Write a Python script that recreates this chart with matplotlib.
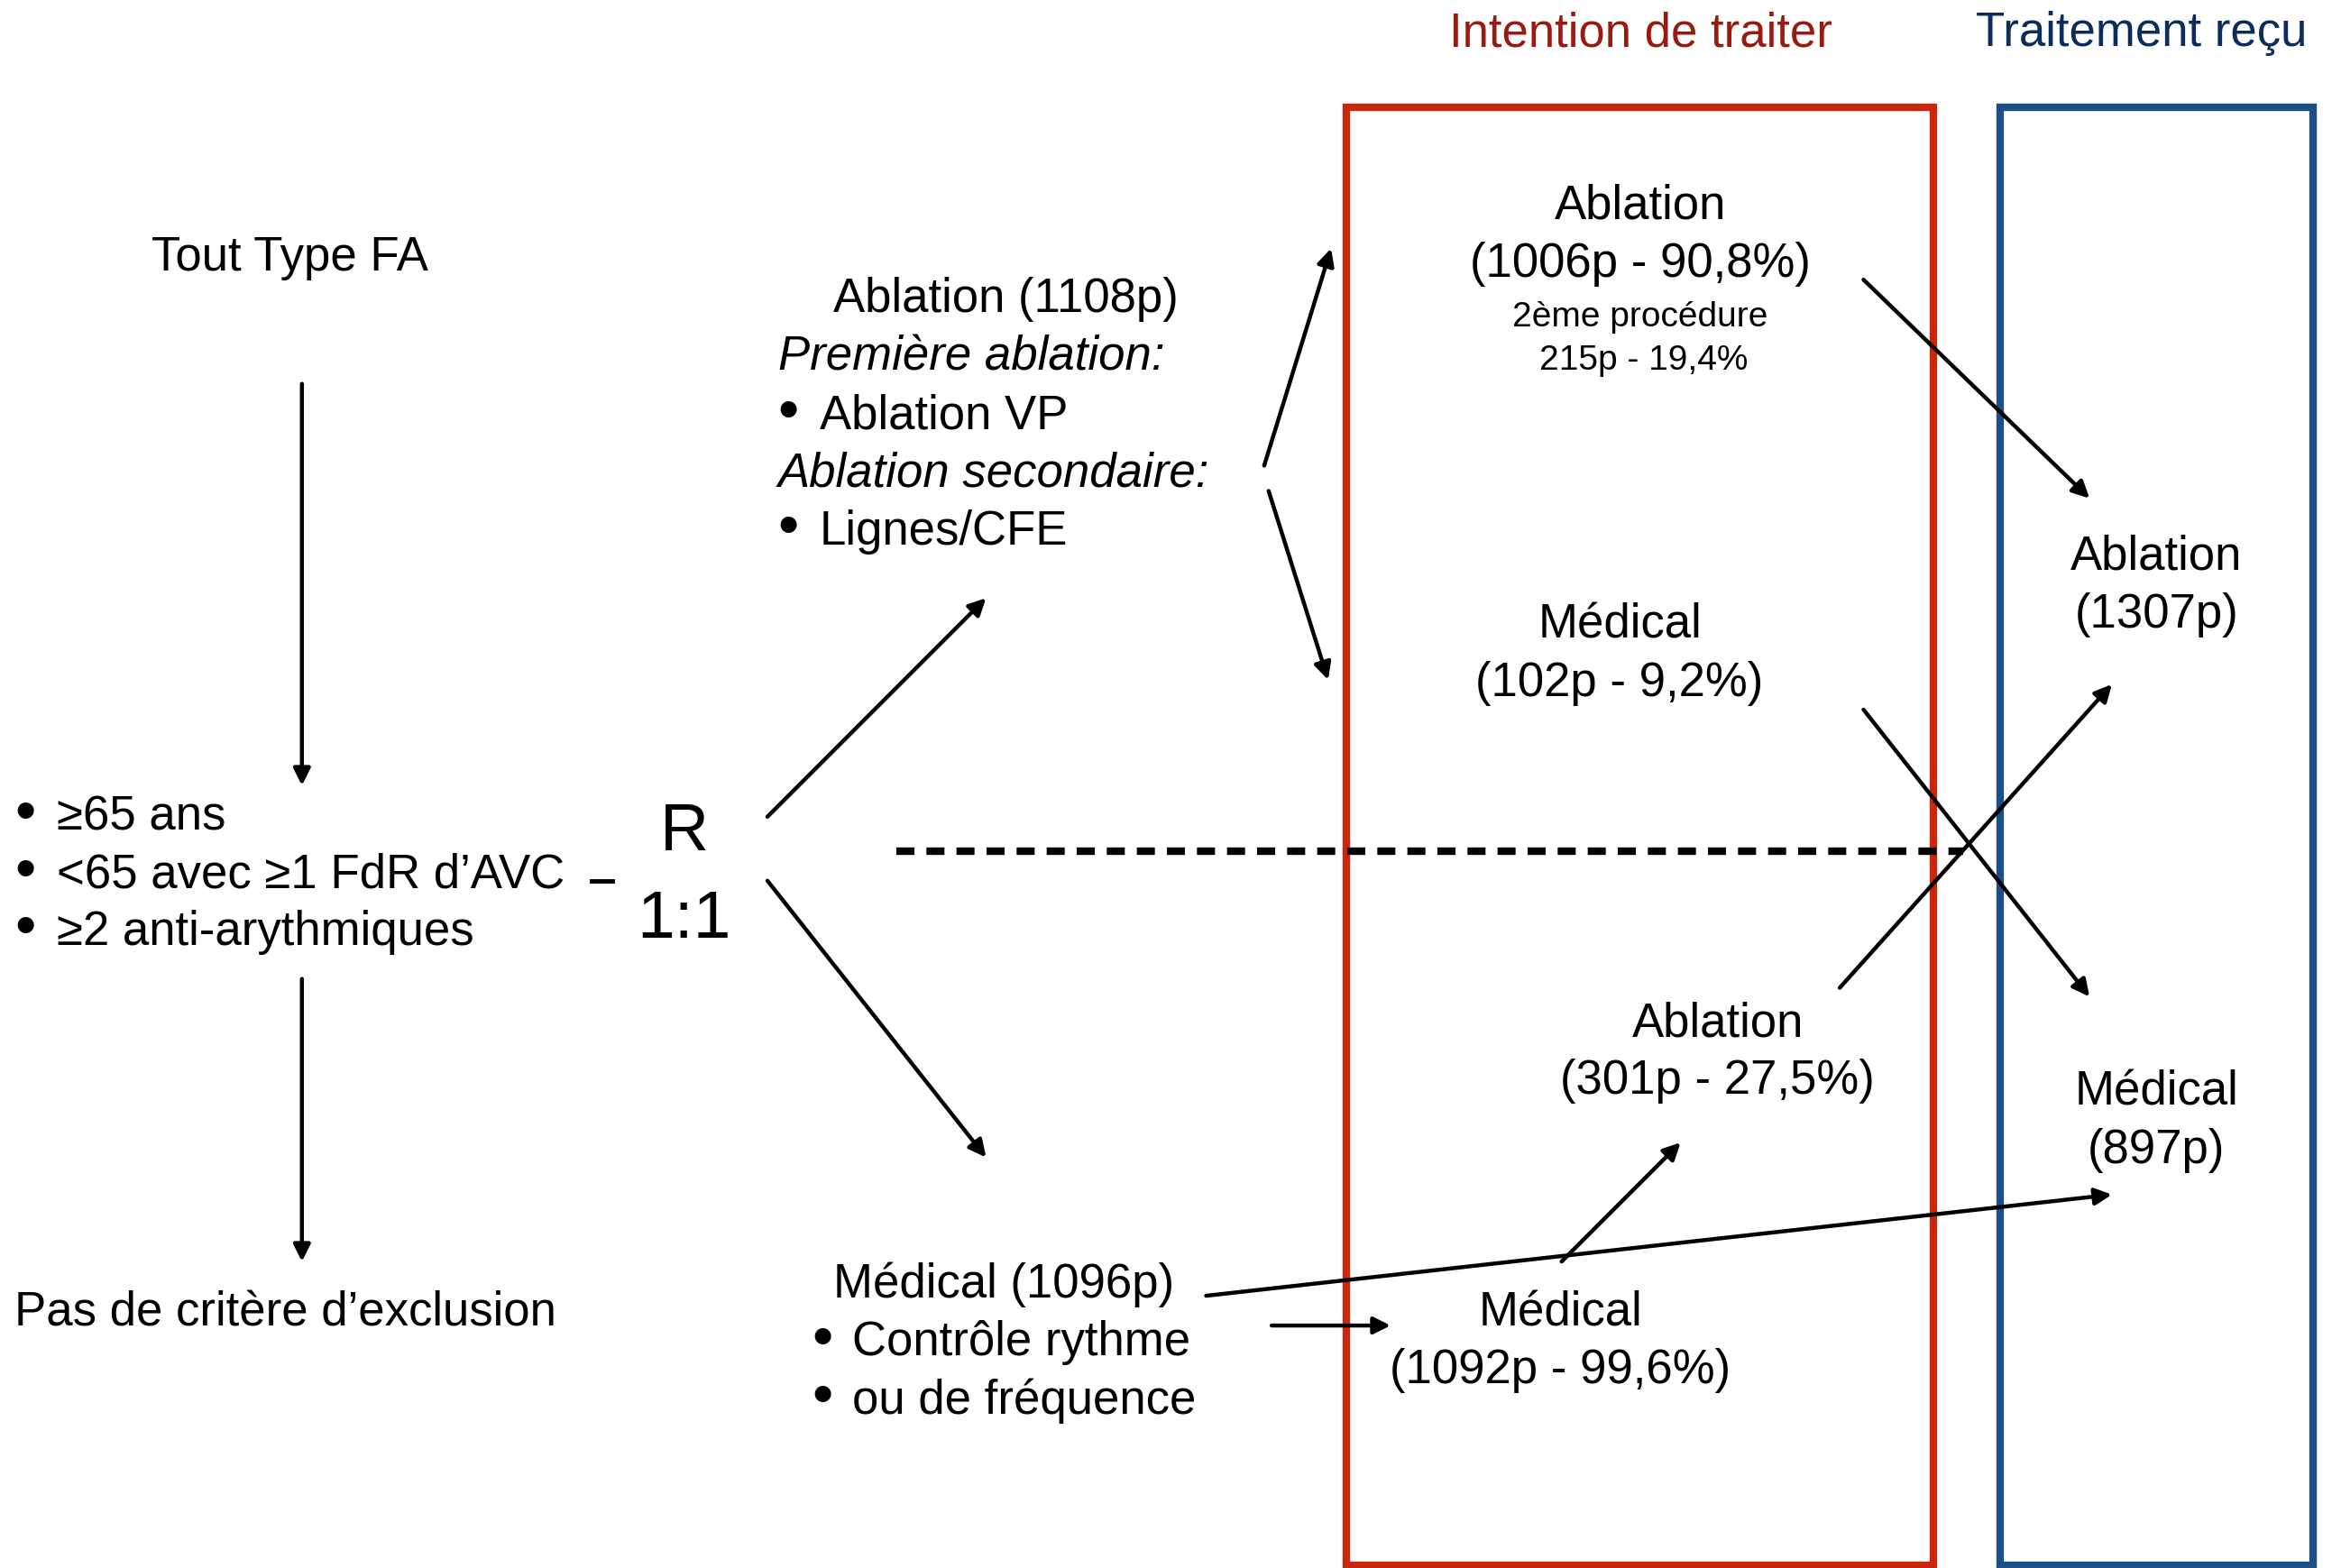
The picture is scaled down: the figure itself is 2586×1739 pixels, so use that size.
import matplotlib.pyplot as plt

plt.rcParams['font.family'] = ['Liberation Sans', 'DejaVu Sans']

bras = ["Ablation", "Médical"]
n_rando = [1108, 1096]
itt_ablation = [1006, 301]          # ablation reçue : bras ablation, bras médical
itt_ablation_pct = ["90,8", "27,5"]
itt_medical = [102, 1092]
itt_medical_pct = ["9,2", "99,6"]
redo_n, redo_pct = 215, "19,4"
recu = [1307, 897]

criteres = ["≥65 ans", "<65 avec ≥1 FdR d’AVC", "≥2 anti-arythmiques"]

ROUGE = "#c9260c"
ROUGE_TXT = "#9a1a10"
BLEU = "#1d4f86"
BLEU_TXT = "#0c2c5c"
FS = 38

fig = plt.figure(figsize=(25.86, 17.39), dpi=100)
ax = fig.add_axes([0, 0, 1, 1])
ax.set_xlim(0, 1568)
ax.set_ylim(1054, 0)
ax.axis("off")


def fleche(x0, y0, x1, y1, lw=3.2):
    ax.annotate("", xy=(x1, y1), xytext=(x0, y0),
                arrowprops=dict(arrowstyle="-|>", lw=lw, color="black",
                                mutation_scale=28, shrinkA=0, shrinkB=0))


def txt(x, y, s, size=FS, ha="center", **kw):
    ax.text(x, y + 2.5, s, fontsize=size, ha=ha, va="center", **kw)


def puce(x, y):
    ax.text(x, y + 1, "•", fontsize=48, ha="center", va="center")


# cadres
ax.add_patch(plt.Rectangle((905, 72), 395, 980, fill=False, ec=ROUGE, lw=6, zorder=1))
ax.add_patch(plt.Rectangle((1345, 72), 210, 980, fill=False, ec=BLEU, lw=6, zorder=1))
txt(1103, 20, "Intention de traiter", color=ROUGE_TXT)
txt(1440, 20, "Traitement reçu", color=BLEU_TXT)

# colonne de gauche
txt(195, 171, "Tout Type FA")
fleche(203, 258, 203, 528)
for i, c in enumerate(criteres):
    y = 547 + i * 38.5
    puce(17, y)
    txt(38, y, c, ha="left")
ax.plot([398, 412], [592, 592], color="black", lw=3.5)
fleche(203, 658, 203, 848)
txt(10, 880, "Pas de critère d’exclusion", ha="left")

# randomisation
txt(460, 557, "R", size=54)
txt(460, 616, "1:1", size=54)
fleche(516, 549, 663, 402)
fleche(516, 592, 663, 778)

# bras ablation
txt(560, 199, f"{bras[0]} ({n_rando[0]}p)", ha="left")
txt(523, 238, "Première ablation:", ha="left", style="italic")
puce(530, 277)
txt(551, 277, "Ablation VP", ha="left")
txt(523, 316, "Ablation secondaire:", ha="left", style="italic")
puce(530, 355)
txt(551, 355, "Lignes/CFE", ha="left")
fleche(850, 313, 895, 167)
fleche(853, 330, 893, 457)

# bras médical
txt(560, 861, f"{bras[1]} ({n_rando[1]}p)", ha="left")
puce(553, 900)
txt(573, 900, "Contrôle rythme", ha="left")
puce(553, 939)
txt(573, 939, "ou de fréquence", ha="left")
fleche(855, 891, 935, 891)

# intention de traiter
txt(1103, 136, "Ablation")
txt(1103, 175, f"({itt_ablation[0]}p - {itt_ablation_pct[0]}%)")
txt(1103, 211, "2ème procédure", size=28)
txt(1105, 240, f"{redo_n}p - {redo_pct}%", size=28)
txt(1089, 418, "Médical")
txt(1089, 457, f"({itt_medical[0]}p - {itt_medical_pct[0]}%)")
txt(1155, 686, "Ablation")
txt(1155, 724, f"({itt_ablation[1]}p - {itt_ablation_pct[1]}%)")
txt(1049, 880, "Médical")
txt(1049, 919, f"({itt_medical[1]}p - {itt_medical_pct[1]}%)")

# séparation
ax.plot([603, 1320], [572, 572], color="black", lw=6, dashes=(2.4, 1.6))

# traitement reçu
txt(1450, 372, "Ablation")
txt(1450, 411, f"({recu[0]}p)")
txt(1450, 732, "Médical")
txt(1450, 771, f"({recu[1]}p)")

fleche(1253, 188, 1405, 335)
fleche(1253, 477, 1405, 670)
fleche(1237, 664, 1420, 460)
fleche(1050, 848, 1130, 768)
fleche(811, 871, 1420, 803)

fig.savefig("out.png", dpi=100)
